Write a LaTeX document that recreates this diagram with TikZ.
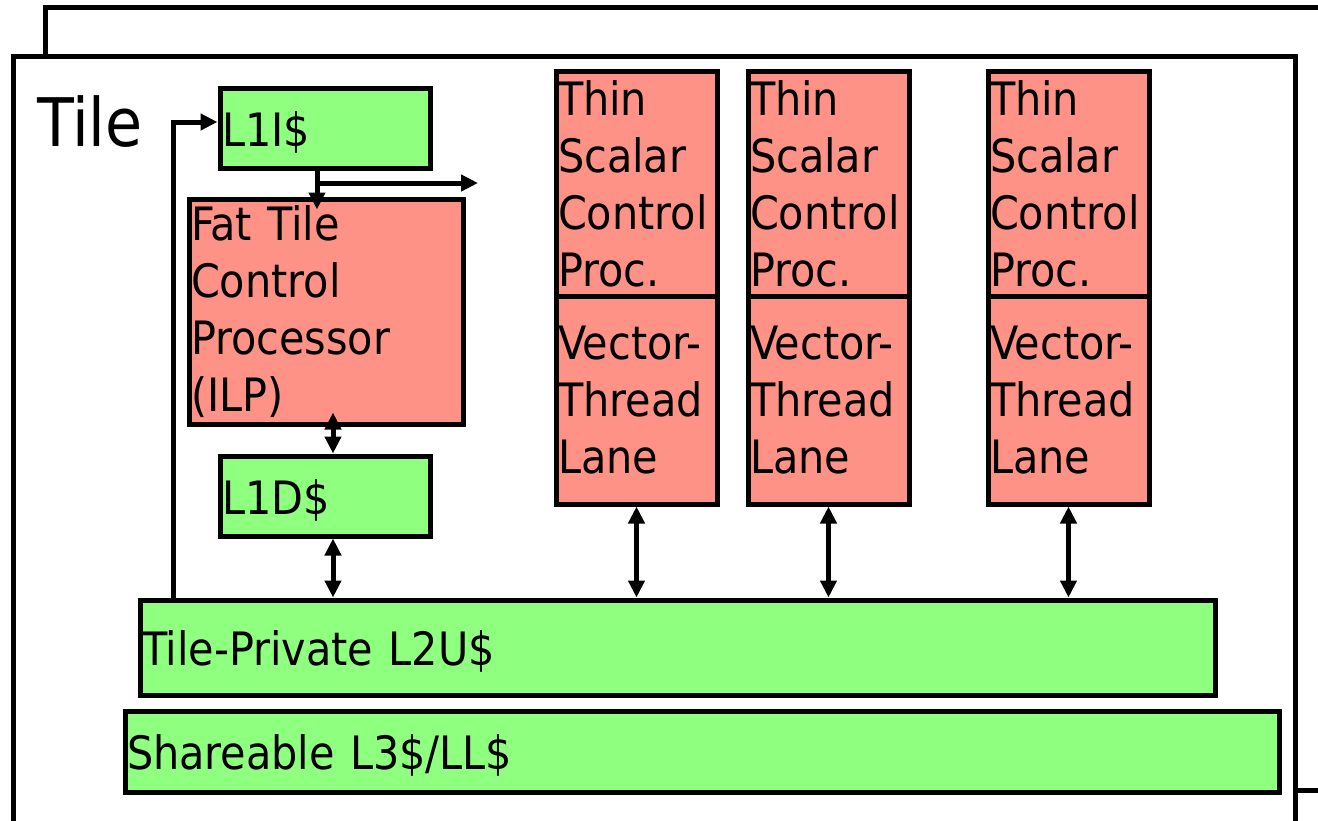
\documentclass[tikz,border=0pt]{standalone}
\usepackage{fontspec}
\setmainfont{DejaVu Sans Condensed}
\usetikzlibrary{arrows.meta,positioning}

\definecolor{cachegreen}{RGB}{143,255,128}
\definecolor{procred}{RGB}{255,146,134}
\tikzset{
  unit/.style={draw, line width=2.5pt, inner xsep=1pt, inner ysep=0pt, align=left,
    font=\fontsize{23}{28.5}\selectfont},
  cache/.style={unit, fill=cachegreen, text height=21pt, text depth=3pt},
  proc/.style={unit, fill=procred},
  frame/.style={draw, line width=2.5pt},
  link/.style={line width=2.5pt, -{Triangle[length=8.5pt,width=8pt]}},
  dlink/.style={line width=2.5pt, {Triangle[length=8.5pt,width=8pt]}-{Triangle[length=8.5pt,width=8pt]}}
}

\begin{document}
\begin{tikzpicture}[x=0.5pt,y=-0.5pt]
\useasboundingbox (0,0) rectangle (1318,820);
\clip (0,0) rectangle (1318,820);
% tile frames
\path[frame] (45,7) rectangle (1400,790);
\path[frame, fill=white] (13,56) rectangle (1295,900);
\node[anchor=base west, inner sep=0pt, font=\fontsize{33.5}{40}\selectfont] (tile) at (37,146) {Tile};

% fat tile and its caches
\node[cache, text width=103pt, minimum height=40pt] (l1i) at (325,128) {L1I\$};
\node[proc, text width=135pt, minimum height=112.5pt] (fat) at (326,311.5) {Fat Tile\\Control\\Processor\\(ILP)};
\node[cache, text width=103pt, minimum height=40pt] (l1d) at (325,496) {L1D\$};

% thin lanes
\foreach \c/\x in {1/636.5, 2/828.5, 3/1068.5} {
  \node[proc, text width=78.5pt, minimum height=112.5pt] (scalar\c) at (\x,183.5) {Thin\\Scalar\\Control\\Proc.};
  \node[proc, text width=78.5pt, minimum height=104pt] (lane\c) at (\x,400) {Vector-\\Thread\\Lane};
}

% lower levels
\node[cache, text width=535.5pt, minimum height=47.5pt] (l2) at (677.5,647.5) {Tile-Private L2U\$};
\node[cache, text width=575pt, minimum height=40.5pt] (l3) at (702,751.5) {Shareable L3\$/LL\$};

% connections
\coordinate (feed) at (173,0);
\coordinate (fetch) at (478,183);
\draw[link] (feed |- l2.north) |- ([yshift=3pt]l1i.west);
\draw[link, shorten >=-6.5pt] ([xshift=-4pt]l1i.south) -- ([xshift=-4pt]l1i.south |- fat.north);
\draw[link] ([xshift=-4pt]l1i.south |- fetch) -- (fetch);
\path[dlink, shorten >=-7pt] ([xshift=4pt]l1d.north) edge ([xshift=4pt]l1d.north |- fat.south);
\path[dlink] ([xshift=4pt]l1d.south) edge ([xshift=4pt]l1d.south |- l2.north);
\foreach \c in {1,2,3}
  \path[dlink] (lane\c.south) edge (lane\c.south |- l2.north);
\end{tikzpicture}
\end{document}
